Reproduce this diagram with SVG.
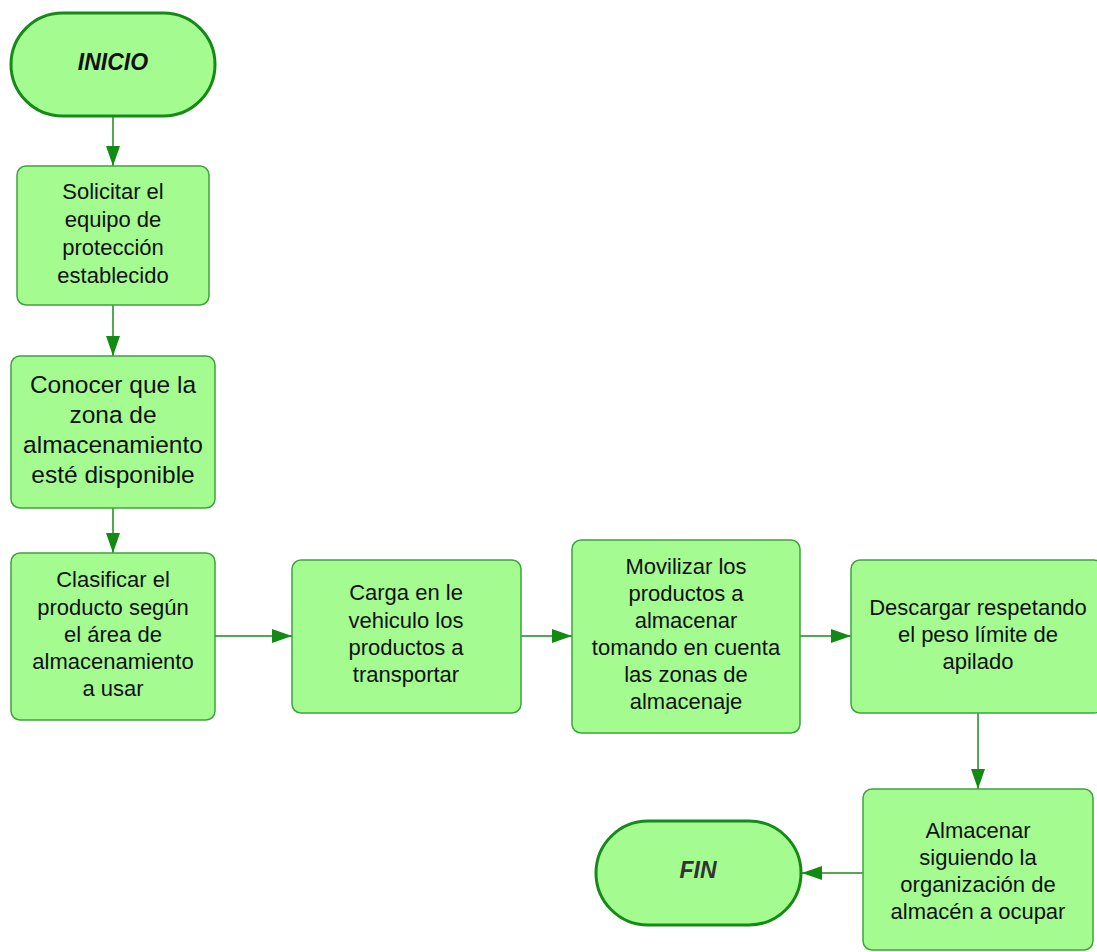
<svg xmlns="http://www.w3.org/2000/svg" width="1097" height="952" viewBox="0 0 1097 952">
<style>
.box{fill:#a4fb90;stroke:#3ea23e;stroke-width:1.5}
.term{fill:#a4fb90;stroke:#168a16;stroke-width:3}
.t{font-family:"Liberation Sans",Arial,sans-serif;font-size:22px;fill:#111;text-anchor:middle}
.big{font-size:24.5px}
.tt{font-family:"Liberation Sans",Arial,sans-serif;font-size:23px;font-weight:bold;font-style:italic;text-anchor:middle}
.c{stroke:#1a8c1a;stroke-width:1.5;fill:none;marker-end:url(#ah)}
</style>
<defs>
<marker id="ah" markerUnits="userSpaceOnUse" markerWidth="20" markerHeight="14" refX="20" refY="7" orient="auto">
<path d="M0,0 L20,7 L0,14 z" fill="#138a13"/>
</marker>
</defs>
<g id="connectors">
<line class="c" x1="113" y1="117" x2="113" y2="166"/>
<line class="c" x1="113" y1="305" x2="113" y2="356"/>
<line class="c" x1="113" y1="508" x2="113" y2="553"/>
<line class="c" x1="215" y1="636" x2="292" y2="636"/>
<line class="c" x1="521" y1="636" x2="572" y2="636"/>
<line class="c" x1="800" y1="636" x2="851" y2="636"/>
<line class="c" x1="978" y1="713" x2="978" y2="789"/>
<line class="c" x1="863" y1="873" x2="802" y2="873"/>
</g>
<g id="inicio">
<rect class="term" x="11" y="13" width="204" height="103" rx="51.5"/>
<text class="tt" x="113" y="70" fill="#111">INICIO</text>
</g>
<g id="solicitar">
<rect class="box" x="17" y="166" width="192" height="139" rx="9"/>
<text class="t" x="113" y="199">Solicitar el</text>
<text class="t" x="113" y="227">equipo de</text>
<text class="t" x="113" y="255">protección</text>
<text class="t" x="113" y="283">establecido</text>
</g>
<g id="conocer">
<rect class="box" x="11" y="356" width="204" height="152" rx="9"/>
<text class="t big" x="113" y="392.5">Conocer que la</text>
<text class="t big" x="113" y="422.5">zona de</text>
<text class="t big" x="113" y="452.5">almacenamiento</text>
<text class="t big" x="113" y="482.5">esté disponible</text>
</g>
<g id="clasificar">
<rect class="box" x="11" y="553" width="204" height="167" rx="9"/>
<text class="t" x="113" y="587">Clasificar el</text>
<text class="t" x="113" y="614.5">producto según</text>
<text class="t" x="113" y="641.5">el área de</text>
<text class="t" x="113" y="668.5">almacenamiento</text>
<text class="t" x="113" y="695.5">a usar</text>
</g>
<g id="carga">
<rect class="box" x="292" y="560" width="229" height="153" rx="9"/>
<text class="t" x="406" y="600">Carga en le</text>
<text class="t" x="406" y="627.5">vehiculo los</text>
<text class="t" x="406" y="654.5">productos a</text>
<text class="t" x="406" y="681.5">transportar</text>
</g>
<g id="movilizar">
<rect class="box" x="572" y="540" width="228" height="193" rx="9"/>
<text class="t" x="686" y="574">Movilizar los</text>
<text class="t" x="686" y="601">productos a</text>
<text class="t" x="686" y="628">almacenar</text>
<text class="t" x="686" y="655">tomando en cuenta</text>
<text class="t" x="686" y="682">las zonas de</text>
<text class="t" x="686" y="709">almacenaje</text>
</g>
<g id="descargar">
<rect class="box" x="851" y="560" width="252" height="153" rx="9"/>
<text class="t" x="978" y="615">Descargar respetando</text>
<text class="t" x="978" y="642">el peso límite de</text>
<text class="t" x="978" y="669">apilado</text>
</g>
<g id="almacenar">
<rect class="box" x="863" y="789" width="230" height="161" rx="9"/>
<text class="t" x="978" y="838">Almacenar</text>
<text class="t" x="978" y="865">siguiendo la</text>
<text class="t" x="978" y="892">organización de</text>
<text class="t" x="978" y="919">almacén a ocupar</text>
</g>
<g id="fin">
<rect class="term" x="596" y="821" width="205" height="104" rx="52"/>
<text class="tt" x="698" y="878" fill="#333">FIN</text>
</g>
</svg>
